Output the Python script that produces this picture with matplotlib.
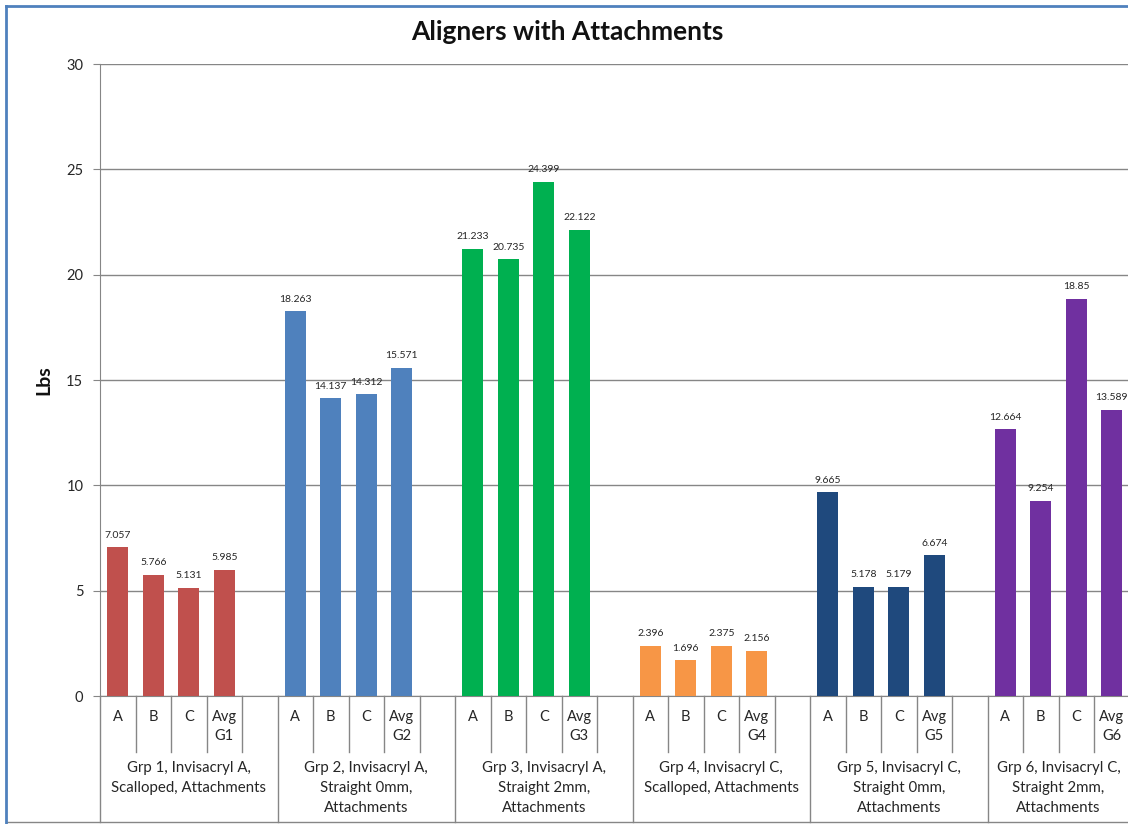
import matplotlib
matplotlib.use("Agg")
import matplotlib.pyplot as plt
import matplotlib.transforms as mtransforms
from matplotlib.lines import Line2D

plt.rcParams['font.family'] = ['Lato', 'DejaVu Sans']

# ---- data ----
bar_labels = ["A", "B", "C", "Avg"]
group_names = [
    "Grp 1, Invisacryl A,\nScalloped, Attachments",
    "Grp 2, Invisacryl A,\nStraight 0mm,\nAttachments",
    "Grp 3, Invisacryl A,\nStraight 2mm,\nAttachments",
    "Grp 4, Invisacryl C,\nScalloped, Attachments",
    "Grp 5, Invisacryl C,\nStraight 0mm,\nAttachments",
    "Grp 6, Invisacryl C,\nStraight 2mm,\nAttachments",
]
grp1 = [7.057, 5.766, 5.131, 5.985]
grp2 = [18.263, 14.137, 14.312, 15.571]
grp3 = [21.233, 20.735, 24.399, 22.122]
grp4 = [2.396, 1.696, 2.375, 2.156]
grp5 = [9.665, 5.178, 5.179, 6.674]
grp6 = [12.664, 9.254, 18.85, 13.589]
groups = [grp1, grp2, grp3, grp4, grp5, grp6]
colors = ["#C0504D", "#4F81BD", "#00B050", "#F79646", "#1F497D", "#7030A0"]
yticks = [0, 5, 10, 15, 20, 25, 30]

W, H = 1128, 824
fig = plt.figure(figsize=(W / 100, H / 100), dpi=100)

# plot area in pixels
px_left, px_right, px_top, px_bottom = 100, 1129.5, 64, 696
ax = fig.add_axes([px_left / W, 1 - px_bottom / H,
                   (px_right - px_left) / W, (px_bottom - px_top) / H])
ax_h = px_bottom - px_top

def yfrac(py):
    """pixel row -> axes fraction"""
    return (px_bottom - py) / ax_h

slots_per_group = 5
n_slots = slots_per_group * (len(groups) - 1) + len(bar_labels)
ax.set_xlim(0, n_slots)
ax.set_ylim(0, 30)

grid_c = "#868686"
txt_c = "#262626"
ax.set_yticks(yticks)
ax.yaxis.grid(True, color=grid_c, linewidth=1.0)
ax.set_axisbelow(True)
ax.tick_params(axis='y', length=5, color=grid_c, labelsize=10.5, pad=7,
               labelcolor=txt_c)
ax.set_xticks([])
for s in ["top", "right"]:
    ax.spines[s].set_visible(False)
ax.spines["left"].set_color(grid_c)
ax.spines["bottom"].set_color(grid_c)

trans = mtransforms.blended_transform_factory(ax.transData, ax.transAxes)

# bars and value labels
for g, (vals, col) in enumerate(zip(groups, colors)):
    start = g * slots_per_group
    xs = [start + i + 0.5 for i in range(len(vals))]
    ax.bar(xs, vals, width=0.59, color=col, zorder=3)
    for x, v in zip(xs, vals):
        ax.annotate(f"{v:g}", (x, v), xytext=(0, 5.5), textcoords="offset points",
                    ha="center", va="bottom", fontsize=7.5, color=txt_c)
    # first-level category labels
    for i, lab in enumerate(bar_labels):
        text = lab if lab != "Avg" else f"Avg\nG{g + 1}"
        ax.text(start + i + 0.5, yfrac(710), text, transform=trans,
                ha="center", va="top", fontsize=10.5, color=txt_c,
                linespacing=1.45)
    # short separators within the group
    n_edges = slots_per_group if g < len(groups) - 1 else len(vals)
    for e in range(1, n_edges):
        ax.add_line(Line2D([start + e] * 2, [0, yfrac(752)], transform=trans,
                           color=grid_c, linewidth=1.0, clip_on=False))
    # group divider
    if g > 0:
        ax.add_line(Line2D([start] * 2, [0, yfrac(822)], transform=trans,
                           color=grid_c, linewidth=1.0, clip_on=False))
    span = slots_per_group if g < len(groups) - 1 else len(vals)
    ax.text(start + span / 2, yfrac(761), group_names[g], transform=trans,
            ha="center", va="top", fontsize=10.8, color=txt_c,
            linespacing=1.55)

# left axis line continues through the category area
ax.add_line(Line2D([0, 0], [0, yfrac(822)], transform=trans,
                   color=grid_c, linewidth=1.0, clip_on=False))
# bottom rule of the category area
fig.add_artist(Line2D([6 / W, 1], [1 - 821.5 / H] * 2, color=grid_c,
                      linewidth=1.0))

# chart frame (left and top edges)
frame_c = "#4F81BD"
fig.add_artist(Line2D([6 / W, 6 / W], [0, 1 - 6 / H], color=frame_c, linewidth=2))
fig.add_artist(Line2D([6 / W, 1], [1 - 6 / H] * 2, color=frame_c, linewidth=2))

fig.text(567 / W, 1 - 32 / H, "Aligners with Attachments", ha="center",
         va="center", fontsize=19, fontweight="bold", color="#111111")
fig.text(44 / W, 1 - 380 / H, "Lbs", ha="center", va="center", rotation=90,
         fontsize=14, fontweight="bold", color="#111111")

fig.savefig("out.png", dpi=100)
